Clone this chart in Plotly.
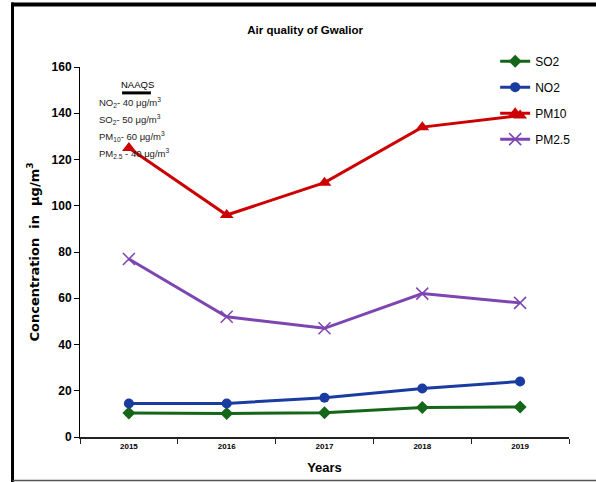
import plotly.graph_objects as go

years = ["2015", "2016", "2017", "2018", "2019"]
so2 = [10.4, 10.2, 10.5, 12.8, 13.0]
no2 = [14.5, 14.5, 17.0, 21.0, 24.0]
pm10 = [125, 96, 110, 134, 139]
pm25 = [77, 52, 47, 62, 58]

naaqs_lines = [
    "NO<sub>2</sub>- 40 μg/m<sup>3</sup>",
    "SO<sub>2</sub>- 50 μg/m<sup>3</sup>",
    "PM<sub>10</sub>- 60 μg/m<sup>3</sup>",
    "PM<sub>2.5</sub> - 40 μg/m<sup>3</sup>",
]

FONT = "Liberation Sans Narrow, Arial Narrow, Liberation Sans, Arial"

fig = go.Figure()
fig.add_trace(go.Scatter(x=years, y=so2, name="SO2", mode="lines+markers", legendgroup="a",
                         line=dict(color="#16661a", width=3),
                         marker=dict(symbol="diamond", size=10, color="#16661a")))
fig.add_trace(go.Scatter(x=years, y=no2, name="NO2", mode="lines+markers", legendgroup="b",
                         line=dict(color="#1a3ca0", width=3),
                         marker=dict(symbol="circle", size=10, color="#1a3ca0")))
fig.add_trace(go.Scatter(x=years, y=pm10, name="PM10", mode="lines+markers", legendgroup="c",
                         line=dict(color="#cc0000", width=3),
                         marker=dict(symbol="triangle-up", size=12, color="#cc0000")))
fig.add_trace(go.Scatter(x=years, y=pm25, name="PM2.5", mode="lines+markers", legendgroup="d",
                         line=dict(color="#7d45b2", width=3),
                         marker=dict(symbol="x-thin", size=12,
                                     line=dict(color="#7d45b2", width=1.5))))

fig.update_layout(
    width=596, height=482,
    margin=dict(l=80, r=27, t=67, b=45),
    plot_bgcolor="white", paper_bgcolor="white",
    font=dict(family=FONT, color="black"),
    title=dict(text="<b>Air quality of Gwalior</b>", x=0.512, xanchor="center",
               y=0.938, yanchor="middle", font=dict(size=11.5, family=FONT)),
    legend=dict(x=0.849, y=1.055, xanchor="left", yanchor="top",
                font=dict(size=12, family=FONT), tracegroupgap=7,
                itemwidth=30, bgcolor="rgba(0,0,0,0)"),
    xaxis=dict(type="category", range=[-0.5, 4.5], showgrid=False, automargin=False,
               showline=True, linecolor="#222", linewidth=2,
               ticks="outside", tickson="boundaries", ticklen=5, tickcolor="#222",
               tickfont=dict(size=8, family="Arial", weight="bold"),
               title=dict(text="<b>Years</b>", font=dict(size=13, family=FONT), standoff=13)),
    yaxis=dict(range=[0, 160], dtick=20, showgrid=False, zeroline=False, automargin=False,
               showline=True, linecolor="black", linewidth=1,
               ticks="outside", ticklen=5, tickcolor="black",
               tickfont=dict(size=12, family=FONT, weight="bold"),
               title=dict(text="<b>Concentration  in  μg/m<sup>3</sup></b>",
                          font=dict(size=13, family="DejaVu Sans"), standoff=9)),
)

# NAAQS note
fig.add_annotation(text="NAAQS", xref="paper", yref="paper", x=0.117, y=0.953,
                   xanchor="center", yanchor="middle", showarrow=False,
                   font=dict(size=9.5, family=FONT))
fig.add_shape(type="line", xref="paper", yref="paper", x0=0.086, x1=0.145,
              y0=0.93, y1=0.93, line=dict(color="black", width=3))
for i, t in enumerate(naaqs_lines):
    fig.add_annotation(text=t, xref="paper", yref="paper", x=0.035, y=0.905 - i * 0.046,
                       xanchor="left", yanchor="middle", showarrow=False,
                       font=dict(size=9.5, family=FONT, color="#222"))

# outer frame
fig.add_shape(type="line", xref="paper", yref="paper", x0=-0.14, x1=1.06,
              y0=1.169, y1=1.169, line=dict(color="black", width=4))
fig.add_shape(type="line", xref="paper", yref="paper", x0=-0.138, x1=-0.138,
              y0=1.174, y1=-0.122, line=dict(color="black", width=3))
fig.add_shape(type="line", xref="paper", yref="paper", x0=-0.138, x1=1.06,
              y0=-0.1176, y1=-0.1176, line=dict(color="#555", width=1.5))

fig.write_html("out.html", config={"displayModeBar": False},
               post_script="document.body.style.margin='0';")
